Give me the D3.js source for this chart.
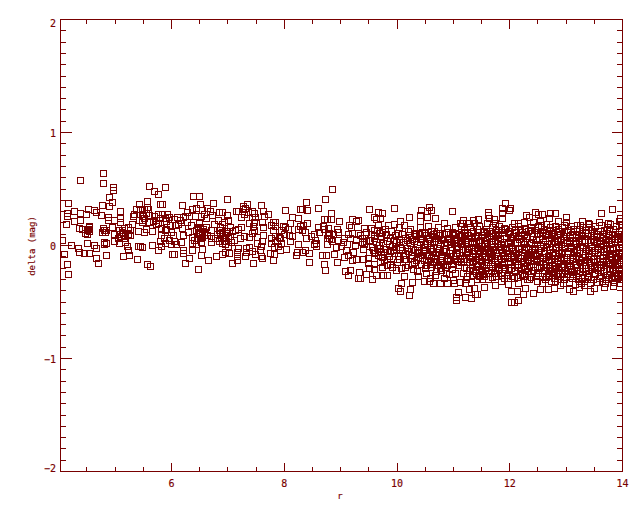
<!DOCTYPE html>
<html><head><meta charset="utf-8">
<script src="https://cdn.jsdelivr.net/npm/d3@7"></script>
<style>html,body{margin:0;background:#fff}svg{display:block}text{font-family:"DejaVu Sans Mono",monospace;fill:#780000;stroke:#780000;stroke-width:.15px}</style>
</head><body><div id="chart"></div>
<script>
const xTicks=[6,8,10,12,14];
const yTicks=[-2,-1,0,1,2];
const xLabel="r", yLabel="delta (mag)";
const pts4to5=[[4.78,.643],[4.37,.581],[4.78,.555],[4.96,.516],[4.96,.493],[4.89,.431],[4.94,.387],[4.16,.378],[4.76,.36],[4.89,.351],[5.08,.307],[5.42,.369],[5.37,.325],[4.15,.289],[4.27,.307],[4.15,.263],[4.37,.289],[4.49,.28],[4.52,.325],[4.62,.316],[4.66,.298],[4.75,.271],[4.87,.254],[4.87,.227],[5.08,.245],[5.08,.21],[5.31,.263],[5.33,.28],[5.44,.325],[5.42,.227],[4.98,.227],[4.27,.218],[4.37,.227],[4.13,.192],[5.3,.192],[4.53,.174],[4.36,.156],[4.42,.148],[4.52,.148],[4.53,.13],[4.46,.112],[4.5,.103],[4.78,.156],[4.8,.139],[4.76,.121],[4.82,.121],[4.94,.165],[5.07,.139],[5.16,.156],[5.23,.165],[4.98,.103],[5.12,.121],[5.07,.103],[5.26,.139],[5.26,.095],[5.4,.13],[5.16,.068],[5.05,.068],[4.98,.041],[5.07,.024],[5.17,.033],[4.8,.033],[4.84,.024],[4.8,.015],[4.5,.024],[4.06,.05],[4.22,.006],[4.34,-.02],[4.36,-.056],[4.45,-.065],[4.53,-.065],[4.62,.006],[4.66,-.02],[4.09,-.074],[5.21,-.003],[5.23,-.038],[5.4,-.003],[5.44,-.003],[4.84,-.082],[5.14,-.091],[5.24,-.082],[5.39,-.118],[4.66,-.109],[4.69,-.153],[4.14,-.162],[4.16,-.251],[4.54,.16],[4.5,.135],[5.14,.11],[5.18,.09],[5.12,.14],[5.22,.105],[5.1,.085],[4.83,.14]];
const pts5to7=[[5.6,.528],[5.69,.483],[5.76,.457],[5.88,.519],[6.38,.439],[6.48,.439],[6.5,.368],[6.73,.377],[5.56,.395],[5.79,.368],[5.83,.368],[6.18,.36],[5.56,.342],[5.51,.324],[5.58,.324],[5.54,.289],[5.47,.28],[5.6,.271],[5.69,.262],[5.76,.28],[5.83,.28],[5.92,.28],[5.72,.227],[5.79,.244],[5.88,.244],[5.95,.253],[6.09,.253],[6.2,.253],[6.27,.297],[6.36,.324],[6.43,.333],[6.54,.315],[6.57,.28],[6.63,.333],[6.68,.306],[6.84,.297],[6.52,.262],[6.72,.271],[6.31,.262],[6.04,.236],[6.15,.227],[6.24,.262],[6.41,.262],[6.61,.244],[6.82,.227],[5.6,.209],[5.51,.121],[5.47,.227],[5.67,.218],[5.76,.2],[5.9,.218],[5.97,.182],[6.06,.182],[6.34,.182],[6.48,.2],[6.47,.165],[6.61,.165],[6.7,.138],[6.86,.165],[5.81,.156],[6.18,.156],[6.29,.121],[5.54,.147],[5.65,.129],[5.81,.094],[5.88,.138],[5.99,.121],[6.2,.094],[6.48,.103],[6.54,.129],[6.57,.094],[6.45,.068],[6.54,.076],[6.36,.076],[6.8,.103],[6.86,.103],[6.7,.068],[6.77,.068],[5.86,.068],[5.95,.05],[6.04,.041],[6.08,.014],[6.17,.032],[6.36,.023],[5.88,.023],[5.79,.041],[5.99,.014],[6.43,.014],[6.52,.032],[6.7,.032],[6.84,.041],[5.65,.005],[5.81,-.003],[5.47,-.012],[5.76,-.039],[6.2,-.039],[6.2,-.065],[6.04,-.074],[6,-.074],[6.36,-.039],[6.54,-.03],[6.31,-.11],[6.52,-.083],[6.79,-.092],[6.64,-.127],[6.24,-.154],[5.56,-.163],[5.62,-.18],[6.47,-.207],[6.5,.11],[6.47,.12],[6.54,.1],[6.43,.138],[6.5,.156],[6.55,.15],[6.57,.12],[6.52,.07],[5.5,.26],[5.52,.24],[5.48,.21],[5.72,.19],[5.9,.15],[6.02,.09],[6.12,.19],[6.28,.21],[6.4,.05],[6.63,.09],[6.75,.19],[6.84,.14]];
const pts7to8=[[6.98,.413],[7.34,.368],[7.58,.36],[7.27,.351],[7.27,.324],[7.3,.333],[7.14,.306],[7.18,.306],[7.28,.28],[7.35,.297],[7.42,.306],[7.46,.289],[7.62,.306],[7.71,.28],[7.64,.262],[8.01,.315],[8.28,.324],[8.13,.253],[8.24,.244],[7.23,.253],[7.42,.253],[7.48,.253],[6.89,.297],[6.98,.271],[7,.227],[6.93,.209],[7.03,.165],[7.37,.2],[7.46,.209],[7.6,.209],[7.8,.209],[7.83,.209],[8.1,.2],[7.76,.182],[6.89,.191],[7.44,.174],[7.62,.165],[7.83,.174],[7.97,.174],[8.01,.165],[8.28,.174],[8.24,.147],[7.23,.165],[7.18,.147],[7.12,.138],[7.07,.129],[7.46,.138],[7.8,.138],[7.94,.138],[8.06,.147],[6.89,.121],[6.98,.129],[6.95,.094],[7.42,.112],[7.62,.094],[8.08,.094],[7.99,.103],[7.03,.085],[7.28,.085],[7.37,.076],[7.21,.068],[7.51,.076],[7.76,.068],[7.83,.085],[7.9,.076],[8.13,.085],[7.11,.05],[6.96,.041],[6.89,.023],[7,-.003],[7.6,.041],[7.76,.023],[7.94,.023],[8.1,.041],[8.24,.014],[7.89,-.003],[7.81,-.012],[7.51,.023],[7.58,-.003],[7.37,-.012],[7.32,-.021],[7.18,-.021],[6.89,-.074],[6.95,-.056],[7.02,-.065],[7.16,-.056],[7.32,-.056],[7.42,-.048],[7.48,-.074],[7.57,-.039],[7.58,-.092],[7.74,-.065],[7.81,-.074],[7.92,-.039],[8.03,-.03],[8.2,-.083],[8.22,-.056],[7.16,-.092],[7.16,-.127],[7.3,-.092],[7.8,-.127],[7.07,-.154],[7.44,-.154],[7.6,-.11],[6.91,.07],[6.93,.04],[7,.07],[6.89,.11],[6.95,.01],[7.87,.04],[7.84,.05],[7.93,.07],[6.97,.11],[7.05,.03]];
const pts8to10=[[8.84,.501],[8.72,.413],[8.38,.386],[8.59,.333],[8.4,.315],[8.31,.324],[8.82,.289],[9.5,.324],[9.66,.297],[8.7,.236],[8.75,.236],[8.82,.236],[8.97,.218],[9.2,.236],[9.3,.227],[9.27,.218],[9.6,.253],[9.62,.236],[9.69,.244],[8.4,.2],[8.33,.182],[8.59,.165],[8.68,.174],[8.77,.156],[8.93,.147],[9.14,.182],[9.18,.165],[9.41,.156],[9.53,.156],[9.66,.182],[8.31,.138],[8.36,.121],[8.52,.103],[8.47,.085],[8.61,.121],[8.7,.147],[8.79,.112],[8.86,.103],[8.95,.121],[9.13,.103],[9.21,.112],[9.3,.112],[9.45,.121],[9.59,.094],[9.68,.112],[8.38,.068],[8.54,.05],[8.56,.023],[8.75,.068],[8.82,.059],[8.95,.05],[9.06,.068],[9.16,.068],[9.37,.068],[9.5,.05],[9.6,.068],[8.56,-.003],[8.52,.014],[8.75,.014],[8.91,-.012],[9,-.003],[9.11,.014],[9.25,.005],[9.41,.014],[9.68,.005],[8.36,-.039],[8.31,-.056],[8.43,-.065],[8.88,-.074],[9.09,-.039],[9.13,-.083],[9.06,-.1],[9.5,-.056],[9.59,-.065],[8.67,-.083],[8.74,-.083],[8.7,-.163],[8.93,-.145],[8.43,-.145],[8.72,-.216],[9.2,-.127],[9.27,-.118],[9.39,-.118],[9.48,-.11],[9.59,-.11],[9.69,-.145],[9.48,-.154],[9.59,-.163],[9.5,-.198],[9.59,-.207],[9.45,-.251],[9.62,-.26],[9.07,-.225],[9.16,-.216],[9.13,-.26],[9.32,-.233],[9.3,-.286],[9.34,-.286],[9.55,-.295],[8.8,.07],[8.84,.04],[8.78,.09],[9.42,.07],[9.38,.03],[9.45,.04],[9.65,-.02],[9.62,.03],[9.55,-.01],[9.34,.09],[9.28,.05],[9.05,.03],[9.53,.1],[9.64,.14],[9.7,.06],[9.58,-.04],[9.66,-.08],[9.6,.14],[9.4,-.03],[9.22,-.06]];
const pts10to11=[[9.94,.333],[10.56,.342],[10.97,.306],[10.42,.315],[10.53,.306],[10.6,.315],[9.73,.289],[10.4,.271],[10.67,.244],[10.53,.253],[10.21,.253],[10.4,.218],[10.05,.218],[9.94,.191],[9.84,.182],[10.12,.182],[10.83,.2],[11.11,.2],[9.78,.147],[10.03,.165],[10.23,.147],[10.4,.165],[10.55,.174],[10.72,.165],[10.88,.156],[11.03,.165],[9.73,.121],[9.89,.129],[10.01,.112],[10.31,.112],[10.47,.121],[10.65,.129],[10.79,.112],[10.97,.121],[11.09,.103],[9.91,-.189],[10.12,-.269],[9.75,-.26],[9.82,-.26],[10.07,-.331],[10.26,-.322],[10.01,-.375],[10.05,-.402],[10.23,-.384],[10.21,-.437],[10.37,-.269],[10.47,-.313],[10.56,-.313],[10.63,-.331],[10.76,-.331],[10.88,-.331],[11.01,-.331],[11.08,-.41],[11.04,-.455],[11.04,-.481],[10.78,-.216],[10.92,-.251],[10.67,-.26],[10.35,-.225],[10.99,-.304],[11.11,-.322],[10.83,-.287],[10.58,-.287],
[9.72,.08],[9.75,.02],[9.71,-.06],[9.77,-.13],[9.74,-.19],[9.8,.1],[9.83,.04],[9.79,-.03],[9.85,-.09],[9.82,-.17],[9.88,.07],[9.91,.0],[9.87,-.05],[9.93,-.12],[9.96,.09],[9.98,.03],[9.95,-.07],[10.0,-.15],[10.03,.06],[10.05,-.01],[10.02,-.09],[10.07,-.2],[10.09,.1],[10.11,.03],[10.08,-.04],[10.13,-.12],[10.15,.07],[10.17,-.02],[10.14,-.07],[10.19,-.17],[10.21,.09],[10.23,.02],[10.2,-.05],[10.25,-.11],[10.27,.06],[10.29,-.03],[10.26,-.08],[10.31,-.15],[10.33,.08],[10.35,.01],[10.32,-.04],[10.37,-.1],[10.39,.1],[10.41,.03],[10.38,-.06],[10.43,-.16],[10.45,.07],[10.47,-.01],[10.44,-.08],[10.49,-.2],[10.51,.09],[10.53,.02],[10.5,-.04],[10.55,-.13],[10.57,.06],[10.59,-.03],[10.56,-.09],[10.61,-.19],[10.63,.1],[10.65,.04],[10.62,-.05],[10.67,-.12],[10.69,.07],[10.71,-.02],[10.68,-.08],[10.73,-.17],[10.75,.09],[10.77,.01],[10.74,-.06],[10.79,-.11],[10.81,.06],[10.83,-.03],[10.8,-.09],[10.85,-.19],[10.87,.1],[10.89,.03],[10.86,-.05],[10.91,-.14],[10.93,.07],[10.95,-.01],[10.92,-.07],[10.97,-.21],[10.99,.09],[11.01,.02],[10.98,-.04],[11.03,-.12],[11.05,.06],[11.07,-.02],[11.04,-.09],[11.09,-.17],[11.11,.08],[11.1,-.06],[10.44,.12],[10.52,-.24],[10.7,-.23],[10.28,-.21],[10.15,-.19],[9.98,-.22],[10.86,-.24],[11.02,-.24],[10.6,.13],[10.2,.13],[10.9,.12]];
const pts11to12=[[11.91,.377],[11.87,.333],[12,.333],[11.98,.315],[11.86,.289],[11.86,.244],[11.61,.298],[11.61,.271],[11.63,.244],[11.43,.236],[11.17,.227],[11.34,.227],[11.27,.2],[11.15,.2],[11.36,.2],[11.72,.236],[12.28,.271],[12.35,.253],[12.44,.298],[12.5,.28],[12.53,.218],[12.25,.209],[12.14,.2],[12.07,.2],[11.73,.2],[11.59,.2],[11.89,.156],[12.41,.209],[11.2,-.455],[11.31,-.463],[11.41,-.428],[11.27,-.384],[11.36,-.375],[11.54,-.366],[11.61,-.295],[11.73,-.348],[11.96,-.34],[11.84,-.313],[12.14,-.331],[12.03,-.402],[12.12,-.402],[12.27,-.375],[12.23,-.428],[12.14,-.481],[12.03,-.499],[12.07,-.499],[12.42,-.419],[12.53,-.384],[12.34,-.295],[11.47,-.26],[11.2,-.331],[11.31,-.322],[11.38,-.428],
[11.13,.17],[11.15,.09],[11.14,.01],[11.16,-.08],[11.13,-.15],[11.17,-.24],[11.19,.14],[11.21,.05],[11.2,-.03],[11.22,-.12],[11.19,-.19],[11.24,.12],[11.26,.03],[11.25,-.06],[11.27,-.15],[11.24,-.27],[11.3,.16],[11.32,.07],[11.31,-.01],[11.33,-.1],[11.3,-.2],[11.35,.13],[11.37,.04],[11.36,-.05],[11.38,-.13],[11.35,-.23],[11.41,.15],[11.43,.08],[11.42,-.02],[11.44,-.09],[11.41,-.18],[11.46,.17],[11.48,.05],[11.47,-.04],[11.49,-.14],[11.46,-.21],[11.52,.12],[11.54,.02],[11.53,-.07],[11.55,-.17],[11.52,-.25],[11.58,.15],[11.6,.07],[11.59,-.02],[11.61,-.1],[11.58,-.2],[11.64,.13],[11.66,.04],[11.65,-.05],[11.67,-.13],[11.64,-.24],[11.69,.16],[11.71,.08],[11.7,-.03],[11.72,-.11],[11.69,-.18],[11.75,.14],[11.77,.02],[11.76,-.06],[11.78,-.16],[11.75,-.27],[11.81,.17],[11.83,.06],[11.82,-.01],[11.84,-.12],[11.81,-.21],[11.87,.12],[11.89,.03],[11.88,-.08],[11.9,-.15],[11.87,-.24],[11.92,.15],[11.94,.07],[11.93,-.04],[11.95,-.1],[11.92,-.19],[11.98,.13],[12,.05],[11.99,-.02],[12.01,-.14],[11.98,-.22],[12.04,.16],[12.06,.08],[12.05,-.05],[12.07,-.12],[12.04,-.27],[12.1,.14],[12.12,.02],[12.11,-.07],[12.13,-.17],[12.1,-.23],[12.15,.17],[12.17,.06],[12.16,-.03],[12.18,-.11],[12.15,-.19],[12.21,.12],[12.23,.04],[12.22,-.06],[12.24,-.15],[12.21,-.25],[12.27,.15],[12.29,.07],[12.28,-.01],[12.3,-.13],[12.27,-.21],[12.33,.13],[12.35,.03],[12.34,-.08],[12.36,-.1],[12.33,-.23],[12.38,.16],[12.4,.08],[12.39,-.04],[12.41,-.16],[12.38,-.28],[12.44,.14],[12.46,.05],[12.45,-.02],[12.47,-.12],[12.44,-.19],[12.5,.17],[12.52,.06],[12.51,-.06],[12.53,-.14],[12.5,-.24],[11.2,.11],[11.4,.02],[11.6,.11],[11.8,.1],[12.0,.1],[12.2,.09],[12.4,.11],[11.25,-.02],[11.45,-.07],[11.65,-.09],[11.85,-.04],[12.05,-.09],[12.25,-.03],[12.45,-.08],[11.33,-.16],[11.56,-.22],[11.74,-.2],[11.95,-.26],[12.18,-.26],[12.35,-.18],[11.22,-.3],[11.5,-.3],[11.68,-.28],[12.08,-.29],[12.31,-.3],[12.49,-.31],[11.42,-.3],[11.9,-.29]];
const pts12to14=[[13.81,.324],[13.61,.289],[12.99,.254],[12.71,.289],[12.8,.289],[12.57,.28],[12.85,.218],[12.69,.245],[12.99,.209],[13.29,.218],[13.38,.2],[13.58,.209],[13.93,.218],[13.75,.2],[13.95,.245],[13.2,.183],[13.05,-.384],[13.13,-.401],[13.42,-.401],[13.49,-.375],[13.67,-.366],[13.84,-.357],[12.78,-.375],[12.67,-.384],[12.58,-.331],[13.22,-.366],[13.31,-.348],[13.93,-.331],[12.9,-.348],
[12.55,.18],[12.57,.08],[12.56,-.02],[12.58,-.1],[12.55,-.19],[12.57,-.27],[12.6,.15],[12.62,.05],[12.61,-.05],[12.63,-.14],[12.6,-.22],[12.62,-.3],[12.65,.19],[12.67,.1],[12.66,.01],[12.68,-.09],[12.65,-.17],[12.67,-.26],[12.71,.16],[12.73,.07],[12.72,-.03],[12.74,-.12],[12.71,-.2],[12.73,-.31],[12.76,.14],[12.78,.04],[12.77,-.06],[12.79,-.15],[12.76,-.24],[12.78,-.29],[12.81,.17],[12.83,.09],[12.82,-.01],[12.84,-.11],[12.81,-.18],[12.83,-.27],[12.87,.13],[12.89,.06],[12.88,-.04],[12.9,-.13],[12.87,-.22],[12.89,-.3],[12.92,.16],[12.94,.03],[12.93,-.07],[12.95,-.16],[12.92,-.25],[12.94,-.33],[12.97,.18],[12.99,.08],[12.98,.0],[13,-.1],[12.97,-.19],[12.99,-.28],[13.03,.14],[13.05,.05],[13.04,-.05],[13.06,-.14],[13.03,-.23],[13.05,-.32],[13.08,.17],[13.1,.1],[13.09,-.02],[13.11,-.12],[13.08,-.21],[13.1,-.29],[13.13,.15],[13.15,.04],[13.14,-.06],[13.16,-.16],[13.13,-.25],[13.15,-.34],[13.19,.13],[13.21,.07],[13.2,-.03],[13.22,-.11],[13.19,-.19],[13.21,-.3],[13.24,.18],[13.26,.09],[13.25,-.01],[13.27,-.13],[13.24,-.23],[13.26,-.33],[13.29,.16],[13.31,.05],[13.3,-.05],[13.32,-.15],[13.29,-.26],[13.31,-.31],[13.35,.14],[13.37,.08],[13.36,-.03],[13.38,-.1],[13.35,-.2],[13.37,-.28],[13.4,.19],[13.42,.03],[13.41,-.07],[13.43,-.17],[13.4,-.24],[13.42,-.33],[13.45,.15],[13.47,.06],[13.46,-.02],[13.48,-.12],[13.45,-.21],[13.47,-.3],[13.51,.17],[13.53,.1],[13.52,-.04],[13.54,-.14],[13.51,-.25],[13.53,-.32],[13.56,.13],[13.58,.04],[13.57,-.06],[13.59,-.16],[13.56,-.22],[13.58,-.29],[13.61,.18],[13.63,.07],[13.62,.0],[13.64,-.11],[13.61,-.19],[13.63,-.31],[13.67,.14],[13.69,.05],[13.68,-.05],[13.7,-.13],[13.67,-.23],[13.69,-.33],[13.72,.16],[13.74,.09],[13.73,-.02],[13.75,-.15],[13.72,-.26],[13.74,-.3],[13.77,.19],[13.79,.03],[13.78,-.07],[13.8,-.1],[13.77,-.2],[13.79,-.28],[13.83,.15],[13.85,.06],[13.84,-.03],[13.86,-.12],[13.83,-.22],[13.85,-.32],[13.88,.17],[13.9,.08],[13.89,-.01],[13.91,-.16],[13.88,-.24],[13.9,-.29],[13.93,.13],[13.95,.04],[13.94,-.06],[13.96,-.13],[13.93,-.21],[13.95,-.3],[13.98,.19],[14,.06],[13.99,-.04],[14,-.11],[13.98,-.2],[13.99,-.27],[12.59,.01],[12.7,-.07],[12.8,.03],[12.91,-.1],[13.02,.02],[13.12,-.08],[13.23,.03],[13.33,-.08],[13.44,-.02],[13.55,.02],[13.65,-.08],[13.76,.05],[13.87,-.07],[13.97,.01],[12.64,.11],[12.75,.1],[12.86,.01],[12.96,.12],[13.07,.07],[13.18,.02],[13.28,.11],[13.39,.11],[13.49,.11],[13.6,.1],[13.71,.03],[13.81,.1],[13.92,.1],[12.69,-.22],[12.85,-.19],[13.01,-.17],[13.17,-.22],[13.34,-.17],[13.5,-.18],[13.66,-.17],[13.82,-.17],[13.96,-.24]];
const coreLow=[[10.04,.03],[10.1,-.08],[10.18,.05],[10.24,-.03],[10.3,.04],[10.36,-.07],[10.42,.06],[10.46,-.05],[10.5,.01],[10.54,-.08],[10.58,.04],[10.6,-.11],[10.64,-.02],[10.66,.08],[10.7,-.06],[10.72,.03],[10.76,-.13],[10.78,.05],[10.82,-.05],[10.84,.02],[10.88,-.11],[10.9,.06],[10.94,-.04],[10.96,.03],[11,-.09],[11.02,.05],[11.06,-.07],[11.08,.02],[11.12,-.11],[11.12,.04],[10.16,-.12],[10.26,-.16],[10.34,-.13],[10.4,-.11],[10.48,-.13],[10.52,-.17],[10.58,-.16],[10.64,-.15],[10.7,-.14],[10.76,-.2],[10.82,-.16],[10.88,-.17],[10.94,-.13],[11,-.16],[11.06,-.14],[10.32,.1],[10.5,.11],[10.7,.11],[10.84,.1],[11.02,.1],[9.86,.01],[9.92,-.04],[9.98,-.03],[9.76,-.06],[9.82,-.12],[9.88,-.16],[9.94,.05],[10.04,-.12],[9.74,-.1],[9.7,-.02]];
const coreMid=[[11.14,.05],[11.16,-.03],[11.18,-.12],[11.18,.08],[11.22,.01],[11.23,-.08],[11.23,-.2],[11.26,.09],[11.28,-.03],[11.28,-.1],[11.28,-.22],[11.31,.11],[11.33,.02],[11.34,-.07],[11.34,-.14],[11.33,-.26],[11.38,.08],[11.39,-.01],[11.39,-.09],[11.4,-.16],[11.4,-.24],[11.43,.12],[11.45,.03],[11.44,-.04],[11.46,-.12],[11.45,-.27],[11.5,.09],[11.5,.0],[11.5,-.1],[11.51,-.18],[11.49,-.23],[11.55,.13],[11.56,.05],[11.56,-.04],[11.57,-.12],[11.55,-.27],[11.6,.02],[11.62,-.06],[11.62,-.15],[11.61,-.24],[11.63,.08],[11.67,.11],[11.68,.01],[11.67,-.07],[11.68,-.16],[11.67,-.22],[11.73,.05],[11.73,-.04],[11.74,-.13],[11.72,-.24],[11.73,.12],[11.79,.09],[11.79,-.01],[11.8,-.09],[11.79,-.19],[11.8,-.27],[11.85,.14],[11.85,.01],[11.86,-.06],[11.86,-.17],[11.84,-.26],[11.9,.08],[11.91,-.02],[11.91,-.11],[11.89,-.21],[11.97,.11],[11.97,.02],[11.97,-.07],[11.97,-.16],[11.96,-.29],[12.02,.07],[12.02,-.01],[12.03,-.1],[12.02,-.2],[12.08,.12],[12.09,.03],[12.09,-.03],[12.09,-.14],[12.08,-.22],[12.14,.09],[12.14,-.02],[12.15,-.1],[12.14,-.16],[12.13,-.28],[12.19,.14],[12.2,.03],[12.2,-.08],[12.2,-.19],[12.25,.1],[12.26,.01],[12.26,-.09],[12.25,-.18],[12.26,-.27],[12.31,.08],[12.32,-.02],[12.32,-.12],[12.3,-.2],[12.36,.14],[12.37,.02],[12.37,-.06],[12.37,-.14],[12.37,-.24],[12.42,.06],[12.43,-.03],[12.43,-.13],[12.42,-.22],[12.48,.1],[12.48,.01],[12.49,-.09],[12.48,-.18],[12.47,-.27],[12.53,.11],[12.53,.0],[12.54,-.11],[12.52,-.2]];
const coreHigh=[[12.58,.12],[12.59,.03],[12.6,-.07],[12.59,-.16],[12.58,-.24],[12.63,.09],[12.64,-.01],[12.64,-.1],[12.64,-.19],[12.64,-.28],[12.69,.13],[12.69,.04],[12.7,-.03],[12.7,-.13],[12.69,-.27],[12.74,.11],[12.74,.02],[12.75,-.08],[12.75,-.17],[12.74,-.23],[12.79,.07],[12.8,-.02],[12.8,-.11],[12.79,-.21],[12.8,-.31],[12.85,.15],[12.85,.05],[12.86,-.07],[12.86,-.14],[12.85,-.25],[12.9,.1],[12.91,.01],[12.91,-.06],[12.92,-.18],[12.9,-.27],[12.95,.08],[12.96,-.02],[12.96,-.12],[12.96,-.22],[12.96,-.3],[13.01,.12],[13.01,.05],[13.02,-.07],[13.02,-.14],[13.01,-.25],[13.06,.09],[13.07,-.01],[13.07,-.1],[13.07,-.18],[13.07,-.27],[13.12,.13],[13.12,.02],[13.13,-.05],[13.13,-.14],[13.11,-.23],[13.17,.1],[13.17,.01],[13.18,-.09],[13.18,-.17],[13.17,-.27],[13.22,.15],[13.23,.05],[13.23,-.07],[13.24,-.15],[13.23,-.31],[13.28,.08],[13.28,-.01],[13.28,-.1],[13.28,-.2],[13.28,-.29],[13.33,.12],[13.34,.03],[13.34,-.05],[13.34,-.13],[13.33,-.23],[13.39,.16],[13.39,.05],[13.39,-.04],[13.4,-.14],[13.39,-.27],[13.44,.09],[13.44,.0],[13.45,-.09],[13.44,-.19],[13.44,-.3],[13.49,.13],[13.5,.04],[13.5,-.06],[13.5,-.15],[13.49,-.24],[13.55,.08],[13.55,-.02],[13.55,-.12],[13.55,-.2],[13.55,-.32],[13.6,.13],[13.6,.01],[13.6,-.08],[13.61,-.16],[13.6,-.27],[13.65,.1],[13.66,.02],[13.66,-.05],[13.66,-.15],[13.65,-.23],[13.71,.06],[13.71,-.03],[13.71,-.11],[13.71,-.21],[13.71,-.3],[13.76,.13],[13.76,.01],[13.77,-.09],[13.77,-.16],[13.76,-.26],[13.82,.07],[13.82,-.02],[13.82,-.13],[13.82,-.21],[13.81,-.29],[13.87,.12],[13.87,.03],[13.88,-.1],[13.87,-.19],[13.87,-.27],[13.92,.06],[13.93,-.02],[13.92,-.09],[13.93,-.16],[13.92,-.26],[13.97,.14],[13.98,.07],[13.98,-.07],[13.98,-.15],[13.97,-.24]];
const points=[...pts4to5,...pts5to7,...pts7to8,...pts8to10,...pts10to11,...coreLow,...pts11to12,...coreMid,...pts12to14,...coreHigh];

const W=640,H=512,color="#780000";
const pLeft=60.5,pRight=622.5,pTop=19.5,pBottom=471.5;
const x=d3.scaleLinear().domain([4.03,14]).range([pLeft,pRight]);
const y=d3.scaleLinear().domain([-2,2]).range([pBottom,pTop]);
const svg=d3.select("#chart").append("svg").attr("width",W).attr("height",H);
svg.append("defs").append("clipPath").attr("id","c").append("rect")
  .attr("x",pLeft).attr("y",pTop).attr("width",pRight-pLeft).attr("height",pBottom-pTop);
const sh=svg.append("g").attr("shape-rendering","crispEdges");
sh.append("g").attr("clip-path","url(#c)").selectAll("rect").data(points).join("rect")
  .attr("x",d=>Math.round(x(d[0]))-2.5).attr("y",d=>Math.round(y(d[1]))-2.5)
  .attr("width",6).attr("height",6).attr("fill","none").attr("stroke",color).attr("stroke-width",1);
sh.append("rect").attr("x",pLeft).attr("y",pTop).attr("width",pRight-pLeft).attr("height",pBottom-pTop)
  .attr("fill","none").attr("stroke",color);
const xMinor=d3.range(4.5,14.01,.5), yMinor=d3.range(-19,20).map(v=>v/10);
const tick=(x1,y1,x2,y2)=>sh.append("line").attr("x1",x1).attr("y1",y1).attr("x2",x2).attr("y2",y2).attr("stroke",color);
xMinor.forEach(v=>{const major=Number.isInteger(v/2);const l=major?9:4.5;
  tick(x(v),pBottom,x(v),pBottom-l);tick(x(v),pTop,x(v),pTop+l);});
yMinor.forEach(v=>{const major=Number.isInteger(v);const l=major?11:5.5;
  tick(pLeft,y(v),pLeft+l,y(v));tick(pRight,y(v),pRight-l,y(v));});
xTicks.forEach(v=>svg.append("text").attr("x",x(v)).attr("y",487).attr("text-anchor","middle").attr("font-size",10).text(v));
const yBase=v=>v===2?y(v)+7.5:v===-2?y(v)+.5:y(v)+4;
yTicks.forEach(v=>svg.append("text").attr("x",56).attr("y",yBase(v)).attr("text-anchor","end").attr("font-size",10).text(String(v).replace("-","\u2212")));
svg.append("text").attr("x",340).attr("y",499).attr("text-anchor","middle").attr("font-size",9).text(xLabel);
svg.append("text").attr("transform","translate(35,246) rotate(-90)").attr("text-anchor","middle").attr("font-size",9).text(yLabel);
</script></body></html>
